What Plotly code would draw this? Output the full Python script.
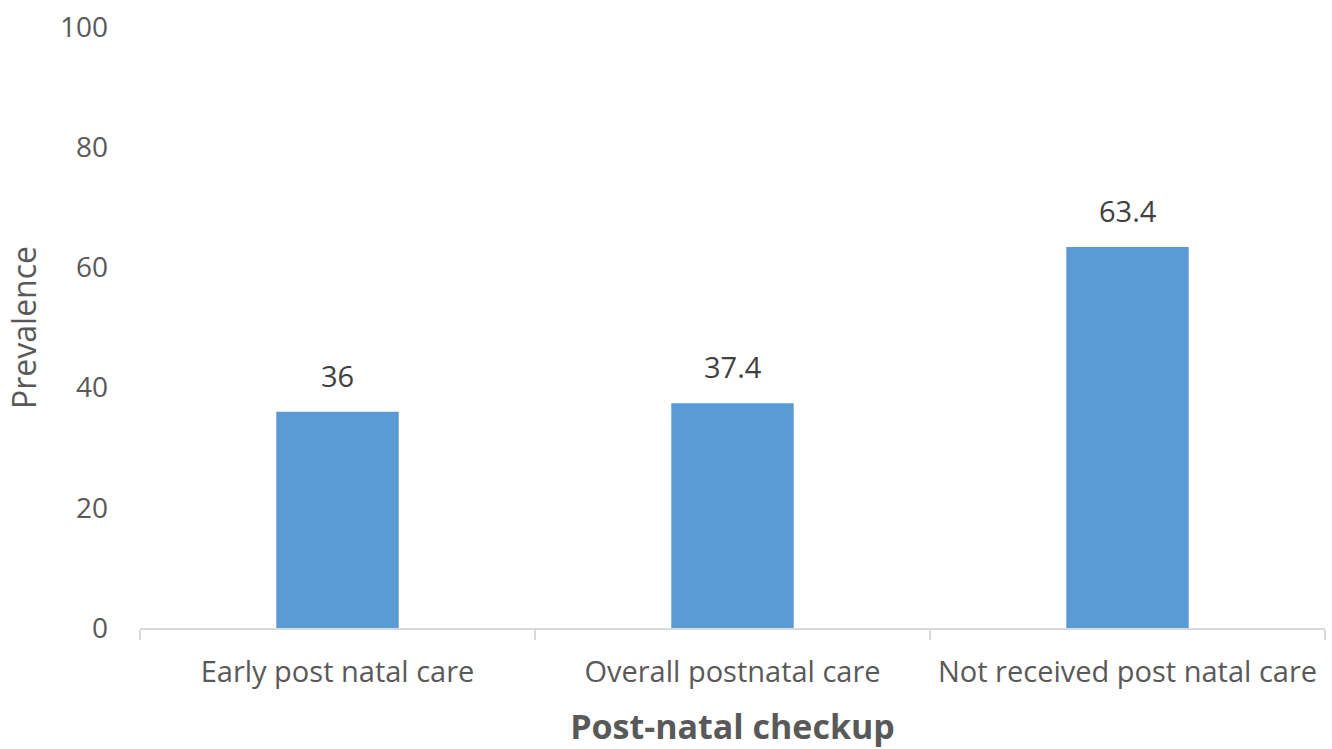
import plotly.graph_objects as go

categories = ["Early post natal care", "Overall postnatal care", "Not received post natal care"]
prevalence = [36, 37.4, 63.4]
y_ticks = [0, 20, 40, 60, 80, 100]

FONT = "Open Sans"
GREY = "#595959"

fig = go.Figure(
    go.Bar(
        x=categories,
        y=prevalence,
        marker=dict(color="#5B9BD5", line=dict(width=0)),
        hoverinfo="x+y",
    )
)

for cat, val in zip(categories, prevalence):
    fig.add_annotation(
        x=cat, y=val, text=f"{val:g}", showarrow=False,
        yanchor="bottom", yshift=15,
        font=dict(family=FONT, size=29, color="#404040"),
    )

fig.update_layout(
    width=1332, height=749,
    margin=dict(l=140, r=7, t=27, b=121),
    paper_bgcolor="white", plot_bgcolor="white",
    bargap=0.69,
    showlegend=False,
    font=dict(family=FONT, color=GREY),
)

fig.update_xaxes(
    type="category",
    tickson="boundaries",
    ticks="outside", ticklen=10, tickcolor="#d9d9d9", tickwidth=1.5,
    showline=True, linecolor="#d9d9d9", linewidth=1.5,
    showgrid=False,
    tickfont=dict(family=FONT, size=29, color=GREY),
    ticklabelstandoff=17,
    title=dict(text="<b>Post-natal checkup</b>", font=dict(family=FONT, size=34, color=GREY), standoff=27),
)

fig.update_yaxes(
    range=[0, 100],
    tickvals=y_ticks,
    showgrid=False, zeroline=False, showline=False,
    tickfont=dict(family=FONT, size=28, color=GREY),
    ticklabelstandoff=31,
    title=dict(text="Prevalence", font=dict(family=FONT, size=32, color=GREY), standoff=13),
)

fig.write_html("out.html")
